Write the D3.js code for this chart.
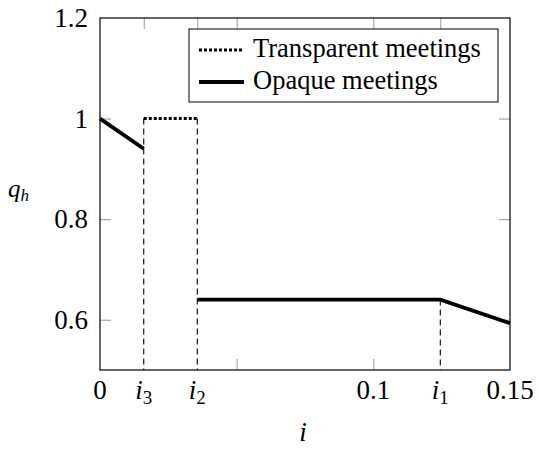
<!DOCTYPE html>
<html>
<head>
<meta charset="utf-8">
<script src="https://cdn.jsdelivr.net/npm/d3@7"></script>
</head>
<body style="margin:0;background:#fff">
<svg id="chart" width="539" height="451" style="font-family: 'Liberation Serif', 'Times New Roman', serif"></svg>
<script>
// values
var i3 = 0.016, i2 = 0.0356, i1 = 0.1245;

var xTickVals   = [0, i3, i2, 0.05, 0.1, i1, 0.15];
var xTickLabels = [["0"], ["i", "3"], ["i", "2"], [""], ["0.1"], ["i", "1"], ["0.15"]];
var yTickVals   = [0.6, 0.8, 1.0, 1.2];
var yTickLabels = ["0.6", "0.8", "1", "1.2"];

var opaque = [
  [[0, 1.0], [i3, 0.94]],
  [[i2, 0.64], [i1, 0.64], [0.15, 0.593]]
];
var transparent = [[i3, 1.0], [i2, 1.0]];
var guides = [[i3, 1.0], [i2, 1.0], [i1, 0.64]];

var legendNames = ["Transparent meetings", "Opaque meetings"];

var FONT = "'Liberation Serif', 'Times New Roman', serif";
var margin = {left: 100, top: 18, right: 29, bottom: 81};
var W = 539 - margin.left - margin.right,
    H = 451 - margin.top - margin.bottom;

var svg = d3.select("#chart");
var g = svg.append("g").attr("transform", "translate(" + margin.left + "," + margin.top + ")");

var x = d3.scaleLinear().domain([0, 0.15]).range([0, W]);
var y = d3.scaleLinear().domain([0.5, 1.2]).range([H, 0]);

// inward gray ticks on all four sides
var tickCol = "#8a8a8a", tl = 11;
function ticks(axis, sel){
  sel.call(axis);
  sel.select(".domain").remove();
  sel.selectAll(".tick line").attr("stroke", tickCol).attr("stroke-width", 0.9);
  sel.selectAll(".tick text").remove();
}
ticks(d3.axisBottom(x).tickValues([0.05, 0.1]).tickSize(-tl), g.append("g").attr("transform", "translate(0," + H + ")"));
ticks(d3.axisTop(x).tickValues([i3, i2, 0.05, 0.1, i1]).tickSize(-tl), g.append("g"));
ticks(d3.axisLeft(y).tickValues([0.6, 0.8, 1.0]).tickSize(-tl), g.append("g"));
ticks(d3.axisRight(y).tickValues([0.6, 0.8, 1.0]).tickSize(-tl), g.append("g").attr("transform", "translate(" + W + ",0)"));

// tick labels
var xl = g.append("g").selectAll("text").data(xTickVals).join("text")
  .attr("x", function(d){ return x(d); })
  .attr("y", H + 29)
  .attr("text-anchor", "middle")
  .style("font-family", FONT).attr("font-size", 27);
xl.each(function(d, k){
  var lab = xTickLabels[k], t = d3.select(this);
  if (lab.length == 1) { t.text(lab[0]); return; }
  t.append("tspan").attr("font-style", "italic").text(lab[0]);
  t.append("tspan").attr("dy", 5).attr("font-size", 19).text(lab[1]);
});

g.append("g").selectAll("text").data(yTickVals).join("text")
  .attr("x", -12)
  .attr("y", function(d){ return y(d) + 9; })
  .attr("text-anchor", "end")
  .style("font-family", FONT).attr("font-size", 27)
  .text(function(d, k){ return yTickLabels[k]; });

// dashed guide lines
g.append("g").selectAll("line").data(guides).join("line")
  .attr("x1", function(d){ return x(d[0]); })
  .attr("x2", function(d){ return x(d[0]); })
  .attr("y1", function(d){ return y(d[1]); })
  .attr("y2", y(0.5))
  .attr("stroke", "#000").attr("stroke-width", 1.1)
  .attr("stroke-dasharray", "6,4");

var line = d3.line().x(function(d){ return x(d[0]); }).y(function(d){ return y(d[1]); });

g.append("path").datum(transparent).attr("d", line)
  .attr("fill", "none").attr("stroke", "#000").attr("stroke-width", 3)
  .attr("stroke-dasharray", "3,2");

g.append("g").selectAll("path").data(opaque).join("path").attr("d", line)
  .attr("fill", "none").attr("stroke", "#000").attr("stroke-width", 3.8);

// frame
g.append("rect").attr("width", W).attr("height", H)
  .attr("fill", "none").attr("stroke", "#000").attr("stroke-width", 1.2);

// legend
var lg = g.append("g").attr("transform", "translate(" + (189 - margin.left) + "," + (29 - margin.top) + ")");
lg.append("rect").attr("width", 309).attr("height", 73)
  .attr("fill", "#fff").attr("stroke", "#000").attr("stroke-width", 1);
var rows = lg.selectAll("g.row").data(legendNames).join("g")
  .attr("transform", function(d, k){ return "translate(0," + (21 + 32 * k) + ")"; });
rows.append("line").attr("x1", 10).attr("x2", 55)
  .attr("stroke", "#000")
  .attr("stroke-width", function(d, k){ return k == 0 ? 3 : 3.8; })
  .attr("stroke-dasharray", function(d, k){ return k == 0 ? "3,2" : null; });
rows.append("text").attr("x", 64).attr("y", 7)
  .style("font-family", FONT).attr("font-size", 26.5)
  .text(function(d){ return d; });

// axis titles
var yt = svg.append("text").attr("x", 8).attr("y", 197)
  .style("font-family", FONT).attr("font-size", 25).attr("font-style", "italic");
yt.append("tspan").text("q");
yt.append("tspan").attr("dy", 4).attr("font-size", 17).text("h");

svg.append("text").attr("x", 303).attr("y", 441)
  .attr("text-anchor", "middle")
  .style("font-family", FONT).attr("font-size", 27).attr("font-style", "italic")
  .text("i");
</script>
</body>
</html>
